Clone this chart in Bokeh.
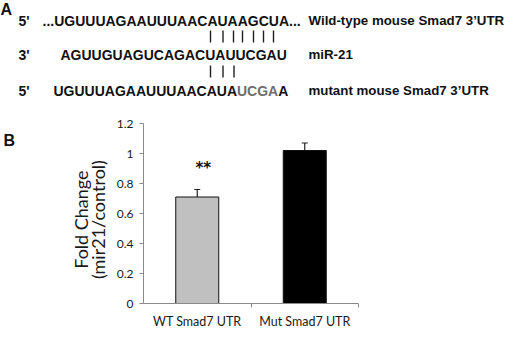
import math
from bokeh.plotting import figure
from bokeh.layouts import column, row
from bokeh.models import Range1d, FixedTicker, Whisker, TeeHead, ColumnDataSource
from bokeh.core.properties import value
from bokeh.embed import file_html
from bokeh.resources import INLINE

# ---- data ----
categories = ["WT Smad7 UTR", "Mut Smad7 UTR"]
fold_change = [0.71, 1.02]
errors = [0.05, 0.05]
bar_colors = ["#c0c0c0", "#000000"]
y_ticks = [0, 0.2, 0.4, 0.6, 0.8, 1.0, 1.2]
y_tick_labels = ["0", "0.2", "0.4", "0.6", "0.8", "1", "1.2"]
significance = ["**", ""]

primes = ["5'", "3'", "5'"]
sequences = ["...UGUUUAGAAUUUAACAUAAGCUA...", "AGUUGUAGUCAGACUAUUCGAU", "UGUUUAGAAUUUAACAUA"]
seq_names = ["Wild-type mouse Smad7 3\u2019UTR", "miR-21", "mutant mouse Smad7 3\u2019UTR"]
mutant_grey = "UCGA"
mutant_tail = "A"

W = 504
TOP_H = 110
BOT_H = 331 - TOP_H
LEFT_W = 112
SEQ_FONT = value("Liberation Sans")


def blank(w, h):
    f = figure(width=w, height=h, output_backend="svg", toolbar_location=None,
               x_range=Range1d(0, w), y_range=Range1d(h, 0),
               x_axis_type=None, y_axis_type=None, min_border=0)
    f.outline_line_color = None
    f.xgrid.visible = False
    f.ygrid.visible = False
    return f


def txt(f, x, y, s, size="14px", color="#111111", bold=True, font=SEQ_FONT,
        align="left", baseline="middle", angle=0.0):
    f.text(x=[x], y=[y], text=[s], text_font=font, text_font_size=size,
           text_font_style="bold" if bold else "normal", text_color=color,
           text_align=align, text_baseline=baseline, angle=angle)


# ---------- Panel A ----------
tf = blank(W, TOP_H)
txt(tf, 0, 0, "A", size="16px", baseline="top")
row_y = [20, 54, 90]
prime_x = 18
seq_x = [42, 60, 53]
label_x = 308
for pr, seq, name, y, sx in zip(primes, sequences, seq_names, row_y, seq_x):
    txt(tf, prime_x, y, pr)
    txt(tf, sx, y, seq)
    txt(tf, label_x, y, name, size="13.3px")
em = 14
w_main = (16 * 0.722 + 2 * 0.778) * em
txt(tf, seq_x[2] + w_main, row_y[2], mutant_grey, color="#6e6e6e")
w_grey = (3 * 0.722 + 0.778) * em
txt(tf, seq_x[2] + w_main + w_grey, row_y[2], mutant_tail)

bars1 = [210, 222.5, 233, 242, 253, 263, 273]
bars2 = [210, 222.5, 233.5]
tf.segment(x0=bars1, x1=bars1, y0=[30] * len(bars1), y1=[42] * len(bars1),
           line_color="#222222", line_width=1.4)
tf.segment(x0=bars2, x1=bars2, y0=[65] * len(bars2), y1=[77] * len(bars2),
           line_color="#222222", line_width=1.4)

# ---------- Panel B: left text strip ----------
lf = blank(LEFT_W, BOT_H)
txt(lf, 3, 11, "B", size="16px", baseline="top")
txt(lf, 80, 118, "Fold Change", size="18px", bold=False, font=value("Lato"),
    align="center", color="#1a1a1a", angle=math.pi / 2)
txt(lf, 97, 118, "(mir21/control)", size="18px", bold=False, font=value("Lato"),
    align="center", color="#1a1a1a", angle=math.pi / 2)

# ---------- Panel B: chart ----------
cf = figure(width=W - LEFT_W, height=BOT_H, output_backend="svg", toolbar_location=None,
            x_range=Range1d(0, len(categories)), y_range=Range1d(0, 1.2),
            min_border_left=143 - LEFT_W, min_border_right=W - 358,
            min_border_top=13, min_border_bottom=25)
cf.outline_line_color = None
cf.xgrid.visible = False
cf.ygrid.visible = False

xs = [i + 0.5 for i in range(len(categories))]
src = ColumnDataSource(dict(x=xs, top=fold_change, color=bar_colors,
                            upper=[v + e for v, e in zip(fold_change, errors)],
                            lower=fold_change, sig=significance,
                            sig_y=[v + e + 0.145 for v, e in zip(fold_change, errors)]))
cf.vbar(x="x", top="top", width=0.4, fill_color="color", line_color="#111111",
        line_width=1, source=src)
cf.add_layout(Whisker(source=src, base="x", upper="upper", lower="lower", dimension="height",
                      line_color="#222222", line_width=1.2,
                      upper_head=TeeHead(size=6, line_color="#222222", line_width=1.2),
                      lower_head=None))
cf.text(x="x", y="sig_y", text="sig", source=src, text_font=value("DejaVu Sans"),
        text_font_style="bold", text_font_size="15px", text_align="center",
        text_baseline="middle", x_offset=6, text_color="#111111")

xa = cf.xaxis[0]
xa.ticker = FixedTicker(ticks=xs, minor_ticks=list(range(1, len(categories) + 1)))
xa.major_label_overrides = {x: c for x, c in zip(xs, categories)}
xa.major_tick_line_color = None
xa.major_tick_out = 0
xa.major_tick_in = 0
xa.minor_tick_in = 0
xa.minor_tick_out = 4
xa.minor_tick_line_color = "#8a8a8a"
xa.axis_line_color = "#8a8a8a"
xa.axis_label_standoff = 0
xa.major_label_text_font = "Lato"
xa.major_label_text_font_size = "12.5px"
xa.major_label_text_color = "#1a1a1a"
xa.major_label_standoff = 6

ya = cf.yaxis[0]
ya.ticker = FixedTicker(ticks=y_ticks, minor_ticks=[])
ya.major_label_overrides = {t: l for t, l in zip(y_ticks, y_tick_labels)}
ya.major_tick_in = 0
ya.major_tick_out = 4
ya.major_tick_line_color = "#8a8a8a"
ya.axis_line_color = "#8a8a8a"
ya.minor_tick_line_color = None
ya.axis_label_standoff = 0
ya.major_label_text_font = "Lato"
ya.major_label_text_font_size = "12px"
ya.major_label_text_color = "#1a1a1a"
ya.major_label_standoff = 6

layout = column(tf, row(lf, cf))
open("out.html", "w").write(file_html(layout, INLINE))
